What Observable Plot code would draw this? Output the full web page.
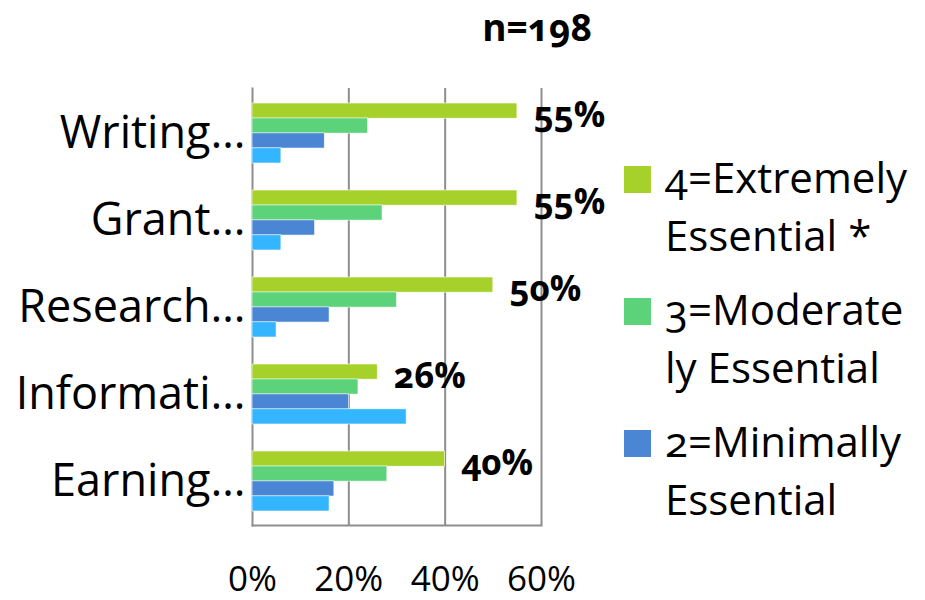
<!DOCTYPE html>
<html>
<head>
<meta charset="utf-8">
<script src="https://cdn.jsdelivr.net/npm/d3@7"></script>
<script src="https://cdn.jsdelivr.net/npm/@observablehq/plot@0.6"></script>
<style>
  html, body { margin: 0; padding: 0; background: #fff; }
  #chart { position: relative; width: 925px; height: 600px; font-family: "Open Sans", sans-serif; font-variant-numeric: oldstyle-nums; color: #000; }
  #chart svg { position: absolute; left: 0; top: 0; }
  .title { position: absolute; left: 437px; width: 200px; top: 1px; text-align: center; font-weight: bold; font-size: 37px; line-height: normal; }
  .legend { position: absolute; left: 624px; top: 148px; }
  .item { position: relative; padding-left: 41px; font-size: 42px; line-height: 58px; margin-bottom: 16px; white-space: nowrap; }
  .swatch { position: absolute; left: 0; top: 18px; width: 27px; height: 27px; }
</style>
</head>
<body>
<div id="chart"></div>
<script>
// Survey: how essential each skill area is (share of respondents, %)
const categories = ["Writing…", "Grant…", "Research…", "Informati…", "Earning…"];
const series = ["4=Extremely Essential *", "3=Moderately Essential", "2=Minimally Essential", "1=Not Essential"];
const legendLines = [["4=Extremely", "Essential *"], ["3=Moderate", "ly Essential"], ["2=Minimally", "Essential"]];
const extremely = [55, 55, 50, 26, 40];
const moderately = [24, 27, 30, 22, 28];
const minimally = [15, 13, 16, 20, 17];
const notEssential = [6, 6, 5, 32, 16];
const xTicks = [0, 20, 40, 60];
const colors = ["#a6d12a", "#5cd27b", "#4a86d4", "#33b6ff"];
const sampleSize = 198;

const seriesValues = [extremely, moderately, minimally, notEssential];
const rows = categories.flatMap((category, i) =>
  series.map((s, j) => ({category, series: s, value: seriesValues[j][i]}))
);

// Layout of the category bands; each band is split into one slot per series.
const W = 925, H = 600;
const margin = {left: 252, right: 384, top: 88, bottom: 75};
const padInner = 0.316, padOuter = 0.158;
const step = (H - margin.top - margin.bottom) / (categories.length - padInner + 2 * padOuter);
const slot = step * (1 - padInner) / series.length;

const gridColor = "#8e8e8e";
const pct = d => d + "%";

const plot = Plot.plot({
  width: W,
  height: H,
  marginLeft: margin.left,
  marginRight: margin.right,
  marginTop: margin.top,
  marginBottom: margin.bottom,
  style: {fontFamily: "Open Sans, sans-serif", fontVariantNumeric: "oldstyle-nums", background: "transparent", overflow: "visible"},
  x: {domain: [0, 60], ticks: xTicks, tickFormat: pct},
  y: {domain: categories, paddingInner: padInner, paddingOuter: padOuter, label: null},
  color: {domain: series, range: colors},
  marks: [
    Plot.ruleX(xTicks.slice(1), {stroke: gridColor, strokeWidth: 2, strokeOpacity: 1}),
    Plot.frame({anchor: "left", stroke: gridColor, strokeWidth: 2, strokeOpacity: 1}),
    Plot.frame({anchor: "bottom", stroke: gridColor, strokeWidth: 2, strokeOpacity: 1}),
    ...series.map((s, j) =>
      Plot.barX(rows.filter(d => d.series === s), {
        x: "value", y: "category", fill: "series",
        insetTop: j * slot, insetBottom: (series.length - 1 - j) * slot,
        stroke: "white", strokeWidth: 0.6
      })
    ),
    Plot.text(rows.filter(d => d.series === series[0]), {
      x: "value", y: "category", text: d => pct(d.value),
      textAnchor: "start", dx: 16, dy: -1.5 * slot + 5,
      fontWeight: "bold", fontSize: 35
    }),
    Plot.axisX({anchor: "bottom", ticks: xTicks, tickFormat: pct, tickSize: 0, tickPadding: 41, fontSize: 35, label: null}),
    Plot.axisY({anchor: "left", tickSize: 0, tickPadding: 7, fontSize: 45, label: null})
  ]
});

const chart = document.getElementById("chart");
chart.appendChild(plot);

const title = document.createElement("div");
title.className = "title";
title.textContent = "n=" + sampleSize;
chart.appendChild(title);

const legend = document.createElement("div");
legend.className = "legend";
legendLines.forEach((lines, i) => {
  const item = document.createElement("div");
  item.className = "item";
  const sw = document.createElement("span");
  sw.className = "swatch";
  sw.style.background = colors[i];
  item.appendChild(sw);
  lines.forEach((line, k) => {
    if (k) item.appendChild(document.createElement("br"));
    item.appendChild(document.createTextNode(line));
  });
  legend.appendChild(item);
});
chart.appendChild(legend);
</script>
</body>
</html>
